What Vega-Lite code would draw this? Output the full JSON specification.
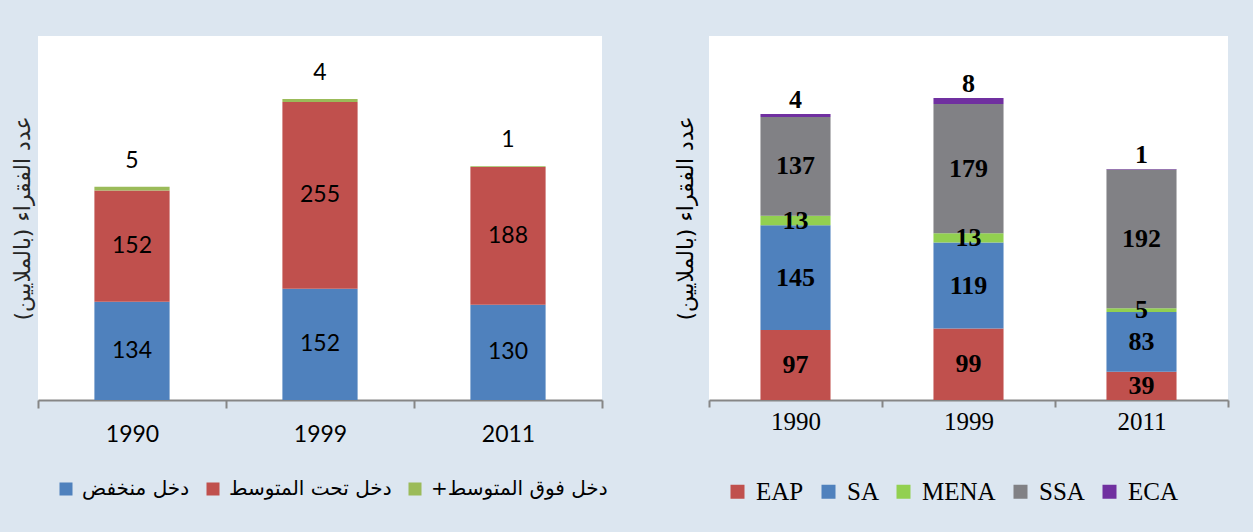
{
  "$schema": "https://vega.github.io/schema/vega-lite/v6.json",
  "background": "#dce6f0",
  "padding": {"left": 11, "top": 36, "right": 26, "bottom": 27},
  "spacing": 107,
  "align": "none",
  "bounds": "flush",
  "config": {
    "view": {"stroke": null, "fill": "white"},
    "axis": {"grid": false}
  },
  "resolve": {"scale": {"color": "independent", "y": "independent", "x": "independent"}, "legend": {"color": "independent"}},
  "hconcat": [
    {
      "width": 564,
      "height": 364,
      "data": {"values": [
        {"year": "1990", "group": "دخل منخفض", "rank": 1, "value": 134},
        {"year": "1990", "group": "دخل تحت المتوسط", "rank": 2, "value": 152},
        {"year": "1990", "group": "+دخل فوق المتوسط", "rank": 3, "value": 5},
        {"year": "1999", "group": "دخل منخفض", "rank": 1, "value": 152},
        {"year": "1999", "group": "دخل تحت المتوسط", "rank": 2, "value": 255},
        {"year": "1999", "group": "+دخل فوق المتوسط", "rank": 3, "value": 4},
        {"year": "2011", "group": "دخل منخفض", "rank": 1, "value": 130},
        {"year": "2011", "group": "دخل تحت المتوسط", "rank": 2, "value": 188},
        {"year": "2011", "group": "+دخل فوق المتوسط", "rank": 3, "value": 1}
      ]},
      "transform": [
        {"stack": "value", "groupby": ["year"], "sort": [{"field": "rank", "order": "ascending"}], "as": ["lo", "hi"]},
        {"calculate": "(datum.lo + datum.hi) / 2", "as": "mid"}
      ],
      "encoding": {
        "x": {
          "field": "year", "type": "nominal", "sort": ["1990", "1999", "2011"],
          "scale": {"paddingInner": 0, "paddingOuter": 0},
          "axis": {
            "title": null, "labelAngle": 0, "labelFont": "Lato", "labelFontSize": 23, "labelColor": "#000000",
            "domainColor": "#868686", "domainWidth": 2, "tickColor": "#868686", "tickWidth": 2, "tickSize": 8,
            "tickBand": "extent", "labelPadding": 15
          }
        }
      },
      "layer": [
        {
          "mark": {"type": "bar", "width": {"band": 0.4}},
          "encoding": {
            "y": {
              "field": "lo", "type": "quantitative", "scale": {"domain": [0, 497], "nice": false, "zero": true},
              "axis": {
                "title": "عدد الفقراء (بالملايين)", "titleFont": "DejaVu Sans", "titleFontSize": 22, "titleFontWeight": "normal",
                "titleColor": "#262626", "titlePadding": 4, "labels": false, "ticks": false, "domain": false, "grid": false
              }
            },
            "y2": {"field": "hi"},
            "color": {
              "field": "group", "type": "nominal",
              "scale": {"domain": ["دخل منخفض", "دخل تحت المتوسط", "+دخل فوق المتوسط"], "range": ["#4f81bd", "#c0504d", "#9bbb59"]},
              "legend": {
                "title": null, "orient": "none", "legendX": 18, "legendY": 443, "direction": "horizontal", "symbolType": "square", "symbolSize": 169,
                "symbolStrokeWidth": 0, "labelFont": "DejaVu Sans", "labelFontSize": 20, "labelColor": "#000000",
                "labelLimit": 400, "columnPadding": 13, "labelOffset": 6
              }
            }
          }
        },
        {
          "transform": [{"filter": "datum.rank < 3"}],
          "mark": {"type": "text", "font": "Lato", "fontSize": 23, "color": "#000000", "baseline": "middle"},
          "encoding": {
            "y": {"field": "mid", "type": "quantitative"},
            "text": {"field": "value", "type": "quantitative"}
          }
        },
        {
          "transform": [{"filter": "datum.rank == 3"}],
          "mark": {"type": "text", "font": "Lato", "fontSize": 23, "color": "#000000", "baseline": "middle", "dy": -26},
          "encoding": {
            "y": {"field": "hi", "type": "quantitative"},
            "text": {"field": "value", "type": "quantitative"}
          }
        }
      ]
    },
    {
      "width": 519,
      "height": 364,
      "data": {"values": [
        {"yr": "1990", "region": "EAP", "idx": 1, "count": 97},
        {"yr": "1990", "region": "SA", "idx": 2, "count": 145},
        {"yr": "1990", "region": "MENA", "idx": 3, "count": 13},
        {"yr": "1990", "region": "SSA", "idx": 4, "count": 137},
        {"yr": "1990", "region": "ECA", "idx": 5, "count": 4},
        {"yr": "1999", "region": "EAP", "idx": 1, "count": 99},
        {"yr": "1999", "region": "SA", "idx": 2, "count": 119},
        {"yr": "1999", "region": "MENA", "idx": 3, "count": 13},
        {"yr": "1999", "region": "SSA", "idx": 4, "count": 179},
        {"yr": "1999", "region": "ECA", "idx": 5, "count": 8},
        {"yr": "2011", "region": "EAP", "idx": 1, "count": 39},
        {"yr": "2011", "region": "SA", "idx": 2, "count": 83},
        {"yr": "2011", "region": "MENA", "idx": 3, "count": 5},
        {"yr": "2011", "region": "SSA", "idx": 4, "count": 192},
        {"yr": "2011", "region": "ECA", "idx": 5, "count": 1}
      ]},
      "transform": [
        {"stack": "count", "groupby": ["yr"], "sort": [{"field": "idx", "order": "ascending"}], "as": ["c0", "c1"]},
        {"calculate": "(datum.c0 + datum.c1) / 2", "as": "cm"}
      ],
      "encoding": {
        "x": {
          "field": "yr", "type": "nominal", "sort": ["1990", "1999", "2011"],
          "scale": {"paddingInner": 0, "paddingOuter": 0},
          "axis": {
            "title": null, "labelAngle": 0, "labelFont": "Liberation Serif", "labelFontSize": 25, "labelColor": "#000000",
            "domainColor": "#868686", "domainWidth": 2, "tickColor": "#868686", "tickWidth": 2, "tickSize": 7,
            "tickBand": "extent", "labelPadding": 2
          }
        }
      },
      "layer": [
        {
          "mark": {"type": "bar", "width": {"band": 0.405}},
          "encoding": {
            "y": {
              "field": "c0", "type": "quantitative", "scale": {"domain": [0, 504], "nice": false, "zero": true},
              "axis": {
                "title": "عدد الفقراء (بالملايين)", "titleFont": "DejaVu Sans", "titleFontSize": 22, "titleFontWeight": "normal",
                "titleColor": "#000000", "titlePadding": 12, "labels": false, "ticks": false, "domain": false, "grid": false
              }
            },
            "y2": {"field": "c1"},
            "color": {
              "field": "region", "type": "nominal",
              "scale": {"domain": ["EAP", "SA", "MENA", "SSA", "ECA"], "range": ["#c0504d", "#4f81bd", "#92d050", "#818185", "#7030a0"]},
              "legend": {
                "title": null, "orient": "none", "legendX": 16, "legendY": 443, "direction": "horizontal", "symbolType": "square", "symbolSize": 196,
                "symbolStrokeWidth": 0, "labelFont": "Liberation Serif", "labelFontSize": 25, "labelColor": "#000000",
                "labelLimit": 300, "columnPadding": 12, "labelOffset": 6
              }
            }
          }
        },
        {
          "transform": [{"filter": "datum.idx < 5"}],
          "mark": {"type": "text", "font": "Liberation Serif", "fontSize": 26, "fontWeight": "bold", "color": "#000000", "baseline": "middle"},
          "encoding": {
            "y": {"field": "cm", "type": "quantitative"},
            "text": {"field": "count", "type": "quantitative"}
          }
        },
        {
          "transform": [{"filter": "datum.idx == 5"}],
          "mark": {"type": "text", "font": "Liberation Serif", "fontSize": 26, "fontWeight": "bold", "color": "#000000", "baseline": "middle", "dy": -14},
          "encoding": {
            "y": {"field": "c1", "type": "quantitative"},
            "text": {"field": "count", "type": "quantitative"}
          }
        }
      ]
    }
  ]
}
